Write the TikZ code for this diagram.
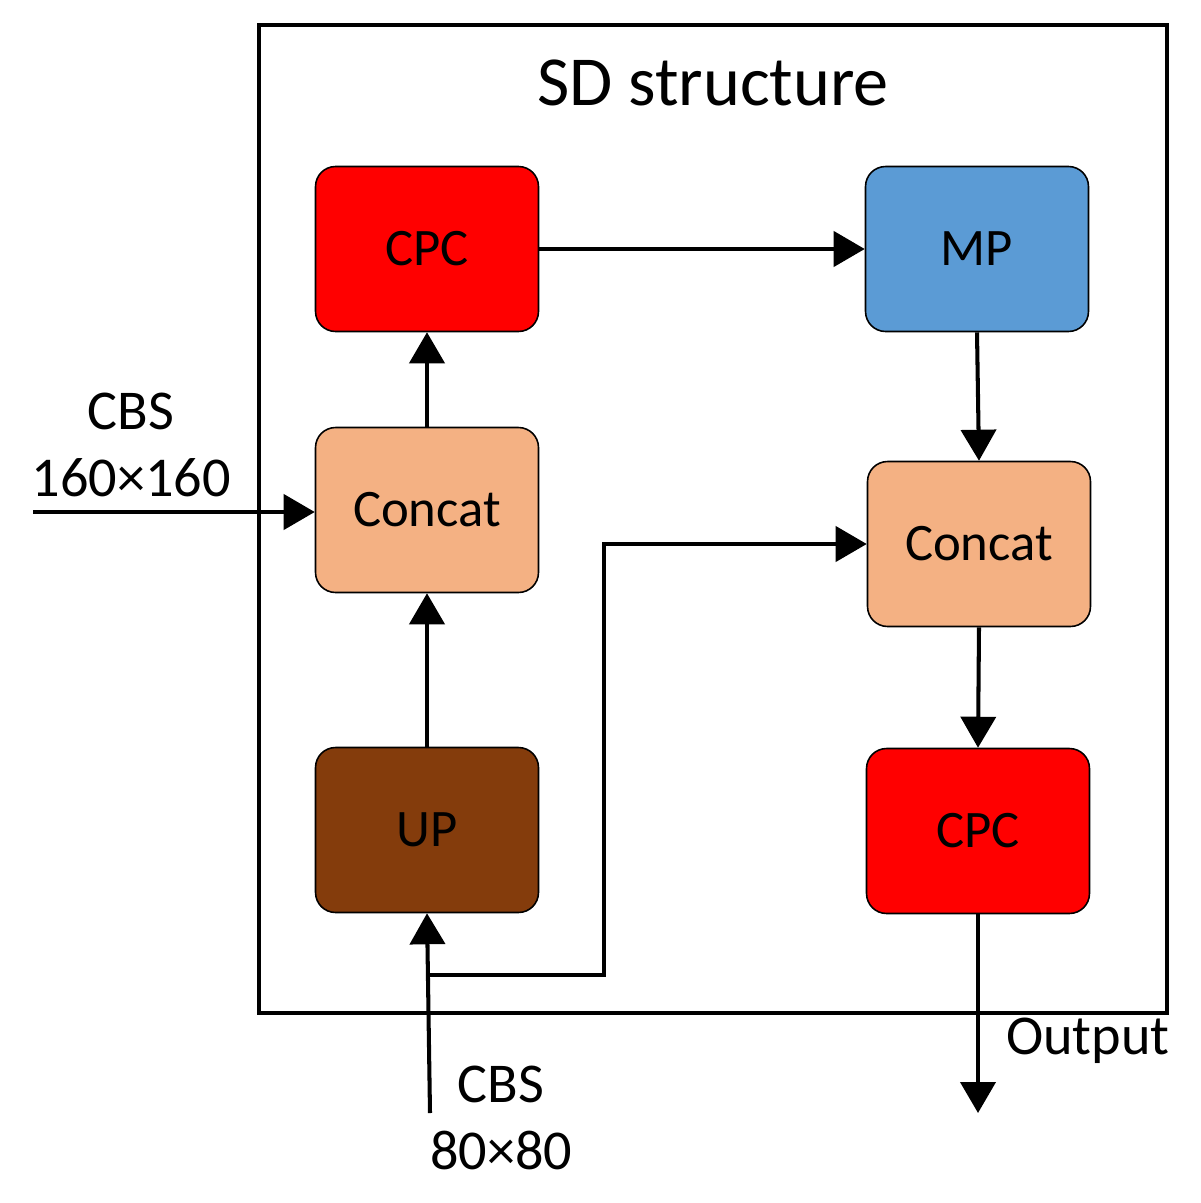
\documentclass[tikz,border=0pt]{standalone}
\usepackage{fontspec}
\setmainfont{Carlito}
\usetikzlibrary{arrows.meta,positioning,calc}
\definecolor{cpcred}{HTML}{FF0000}
\definecolor{mpblue}{HTML}{5B9BD5}
\definecolor{catpeach}{HTML}{F4B183}
\definecolor{upbrown}{HTML}{843C0C}
\tikzset{
    blk/.style={draw, line width=0.9pt, rounded corners=0.4cm, minimum width=4.46cm, minimum height=3.3cm, font=\fontsize{30}{36}\selectfont},
    link/.style={line width=2.3pt, -{Triangle[length=0.62cm, width=0.7cm]}},
    lbl/.style={font=\fontsize{32}{38}\selectfont}
}
\begin{document}
\begin{tikzpicture}[x=0.02cm, y=-0.02cm]
    \useasboundingbox (0,0) rectangle (1200,1203);
    % Frame
    \draw[line width=2.3pt] (259,25) rectangle (1167,1013);
    \node[font=\fontsize{40}{48}\selectfont] (title) at (713,83) {SD structure};
    
    % Blocks
    \node[blk, fill=cpcred] (cpcA) at (427,249) {CPC};
    \node[blk, fill=mpblue] (mp) at (977,249) {MP};
    \node[blk, fill=catpeach] (catA) at (427,510) {Concat};
    \node[blk, fill=catpeach] (catB) at (979,544) {Concat};
    \node[blk, fill=upbrown] (up) at (427,830) {UP};
    \node[blk, fill=cpcred] (cpcB) at (978,831) {CPC};
    
    % Inputs and output
    \coordinate (inA) at (33,512);
    \coordinate (inB) at (430,1113);
    \coordinate (split) at (430,975);
    \coordinate (outB) at (978,1113);
    \node[lbl, align=center] (cbsA) at (131,445) {CBS\\160×160};
    \node[lbl, align=center] (cbsB) at (501,1118) {CBS\\80×80};
    \node[lbl] (outl) at (1088,1041) {Output};
    
    % Connectors
    \draw[link] (inA) -- (catA.west |- inA);
    \draw[link] (inB) -- (up.south);
    \draw[link] (up.north) -- (catA.south);
    \draw[link] (catA.north) -- (cpcA.south);
    \draw[link] (cpcA.east) -- (mp.west);
    \draw[link] (mp.south) -- (catB.north);
    \draw[link] (split) -| (604,544) -- (catB.west);
    \draw[link] (catB.south) -- (cpcB.north);
    \draw[link] (cpcB.south) -- (outB);
\end{tikzpicture}
\end{document}
